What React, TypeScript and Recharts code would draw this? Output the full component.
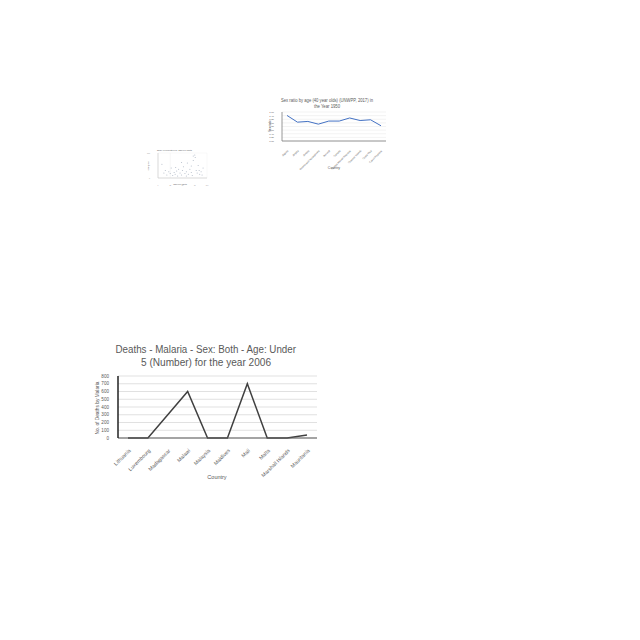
import React from 'react';
import {
  LineChart,
  Line,
  XAxis,
  YAxis,
  CartesianGrid,
  ScatterChart,
  Scatter,
} from 'recharts';

// main chart: malaria deaths under 5, 2006
const countries = [
  'Lithuania',
  'Luxembourg',
  'Madagascar',
  'Malawi',
  'Malaysia',
  'Maldives',
  'Mali',
  'Malta',
  'Marshall Islands',
  'Mauritania',
];
const deaths = [0, 0, 300, 600, 0, 0, 700, 0, 0, 40];
const deathTicks = [0, 100, 200, 300, 400, 500, 600, 700, 800];

// small line chart: sex ratio, 1950
const ratioCountries = [
  'Algeria',
  'Angola',
  'Austria',
  'Bosnia and Herzegovina',
  'Burundi',
  'Canada',
  'Central African Republic',
  'Channel Islands',
  'Costa Rica',
  'Czech Republic',
];
const ratios = [1.41, 1.04, 1.08, 0.93, 1.1, 1.1, 1.27, 1.13, 1.17, 0.84];
const ratioTicks = [0, 0.2, 0.4, 0.6, 0.8, 1, 1.2, 1.4, 1.6];

// tiny scatter chart
const scatterX = [
  8, 12, 15, 18, 22, 25, 27, 30, 33, 35, 38, 40, 42, 45, 48, 50, 52, 55, 58, 60,
  62, 65, 68, 70, 72, 75, 78, 80, 82, 85, 88, 90, 92, 72, 76, 68, 48, 36, 58, 84,
];
const scatterY = [
  55, 20, 30, 12, 25, 18, 40, 10, 22, 15, 28, 8, 35, 20, 12, 30, 45, 18, 25, 60,
  15, 35, 22, 10, 88, 92, 30, 20, 50, 15, 25, 12, 40, 70, 82, 48, 62, 42, 8, 30,
];

const malariaRows = countries.map((c, i) => ({ country: c, deaths: deaths[i] }));
const ratioRows = ratioCountries.map((c, i) => ({ country: c, ratio: ratios[i] }));
const scatterRows = scatterX.map((x, i) => ({ x, y: scatterY[i] }));

const GREY = '#595959';
const FONT = '"Liberation Sans Narrow", "Liberation Sans", Arial, sans-serif';

const makeTick = (size: number, dx: number, dy: number) => (props: any) => {
  const { x, y, payload } = props;
  return (
    <text
      x={x + dx}
      y={y + dy}
      transform={`rotate(-45, ${x + dx}, ${y + dy})`}
      textAnchor="end"
      fontSize={size}
      fill={GREY}
      fontFamily={FONT}
    >
      {payload.value}
    </text>
  );
};

const abs = (left: number, top: number): React.CSSProperties => ({
  position: 'absolute',
  left,
  top,
});

export default function App() {
  return (
    <div
      style={{
        position: 'absolute',
        left: 0,
        top: 0,
        width: 640,
        height: 640,
        background: '#fff',
        overflow: 'hidden',
        fontFamily: FONT,
      }}
    >
      {/* titles and axis names */}
      <svg width={640} height={640} style={abs(0, 0)}>
        <g fill={GREY} fontFamily={FONT}>
          <text x={115.5} y={353} fontSize={10} textLength={180.5} lengthAdjust="spacingAndGlyphs">
            Deaths - Malaria - Sex: Both - Age: Under
          </text>
          <text x={141} y={366} fontSize={10} textLength={130} lengthAdjust="spacingAndGlyphs">
            5 (Number) for the year 2006
          </text>
          <text x={217} y={479} fontSize={5.5} textAnchor="middle">
            Country
          </text>
          <text x={99} y={408} fontSize={4.8} textAnchor="middle" transform="rotate(-90, 99, 408)">
            No. of Deaths by Malaria
          </text>

          <text x={281} y={102} fontSize={4.5} textLength={92} lengthAdjust="spacingAndGlyphs">
            Sex ratio by age (40 year olds) (UNWPP, 2017) in
          </text>
          <text x={314} y={108} fontSize={4.5} textLength={26} lengthAdjust="spacingAndGlyphs">
            the Year 1950
          </text>
          <text x={334} y={169} fontSize={3.5} textAnchor="middle">
            Country
          </text>
          <text x={271} y={126} fontSize={3} textAnchor="middle" transform="rotate(-90, 271, 126)">
            Sex ratio
          </text>

          <text x={157} y={151} fontSize={2.2} textLength={35} lengthAdjust="spacingAndGlyphs">
            Share of population vs. GDP per capita
          </text>
          <text x={180} y={184.5} fontSize={2} textAnchor="middle">
            GDP per capita
          </text>
          <text x={148.5} y={166} fontSize={2} textAnchor="middle" transform="rotate(-90, 148.5, 166)">
            Share (%)
          </text>
        </g>
      </svg>

      <div style={abs(90, 370)}>
        <LineChart
          width={240}
          height={118}
          data={malariaRows}
          margin={{ top: 6, right: 13, bottom: 0, left: 0 }}
        >
          <CartesianGrid vertical={false} stroke="#d9d9d9" strokeWidth={0.8} />
          <XAxis
            dataKey="country"
            interval={0}
            padding={{ left: 10, right: 10 }}
            height={50}
            tickLine={false}
            axisLine={{ stroke: GREY, strokeWidth: 1 }}
            tick={makeTick(5.2, 3, 5)}
          />
          <YAxis
            width={28}
            domain={[0, 800]}
            ticks={deathTicks}
            interval={0}
            tickLine={false}
            tickMargin={3}
            axisLine={{ stroke: '#222', strokeWidth: 1.5 }}
            tick={{ fontSize: 4.6, fill: GREY, fontFamily: FONT }}
          />
          <Line
            type="linear"
            dataKey="deaths"
            stroke="#404040"
            strokeWidth={1.5}
            dot={false}
            isAnimationActive={false}
          />
        </LineChart>
      </div>

      <div style={abs(262, 106)}>
        <LineChart
          width={130}
          height={72}
          data={ratioRows}
          margin={{ top: 6, right: 6, bottom: 0, left: 0 }}
        >
          <CartesianGrid vertical={false} stroke="#e6e6e6" strokeWidth={0.5} />
          <XAxis
            dataKey="country"
            interval={0}
            padding={{ left: 5, right: 5 }}
            height={37}
            tickLine={false}
            axisLine={{ stroke: '#7f7f7f', strokeWidth: 0.8 }}
            tick={makeTick(2.5, 1.5, 2)}
          />
          <YAxis
            width={20}
            domain={[0, 1.6]}
            ticks={ratioTicks}
            interval={0}
            tickLine={false}
            tickMargin={2}
            axisLine={{ stroke: '#7f7f7f', strokeWidth: 0.8 }}
            tickFormatter={(v: number) => v.toFixed(2)}
            tick={{ fontSize: 2.5, fill: GREY, fontFamily: FONT }}
          />
          <Line
            type="linear"
            dataKey="ratio"
            stroke="#4472c4"
            strokeWidth={1}
            dot={false}
            isAnimationActive={false}
          />
        </LineChart>
      </div>

      <div style={abs(145, 150)}>
        <ScatterChart
          width={65}
          height={38}
          margin={{ top: 3, right: 3, bottom: 0, left: 0 }}
        >
          <CartesianGrid stroke="#eeeeee" strokeWidth={0.4} />
          <XAxis
            type="number"
            dataKey="x"
            domain={[0, 100]}
            height={10}
            tickLine={false}
            tickMargin={1}
            axisLine={{ stroke: '#bfbfbf', strokeWidth: 0.5 }}
            tick={{ fontSize: 1.5, fill: '#999' }}
          />
          <YAxis
            type="number"
            dataKey="y"
            domain={[0, 100]}
            width={13}
            tickLine={false}
            axisLine={{ stroke: '#bfbfbf', strokeWidth: 0.5 }}
            tick={{ fontSize: 1.8, fill: '#999' }}
          />
          <Scatter
            data={scatterRows}
            fill="#c9cfd8"
            shape={(p: any) => <circle cx={p.cx} cy={p.cy} r={0.6} fill="#b8c0cc" />}
            isAnimationActive={false}
          />
        </ScatterChart>
      </div>
    </div>
  );
}
